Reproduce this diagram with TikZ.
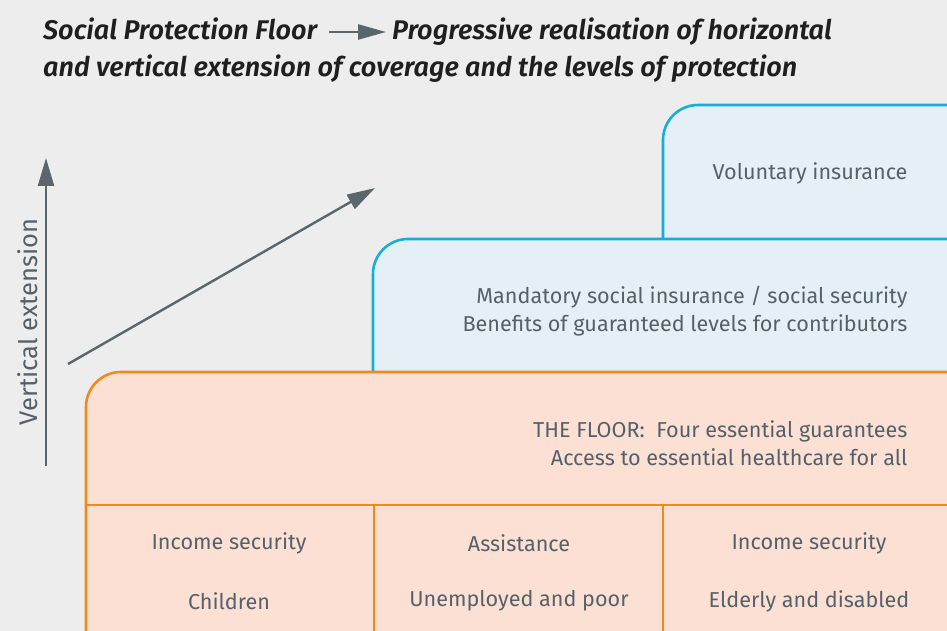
\documentclass[tikz,border=0pt]{standalone}
\usepackage{fontspec}
\setmainfont{Fira Sans}[UprightFont={Fira Sans Regular}, BoldItalicFont={Fira Sans SemiBold Italic}]
\usepackage{xcolor}
\usetikzlibrary{arrows.meta}

\definecolor{bgGrey}{HTML}{ECEDEC}
\definecolor{txtGrey}{HTML}{55616A}
\definecolor{arrGrey}{HTML}{5A656C}
\definecolor{blueLine}{HTML}{1BADDA}
\definecolor{blueFill}{HTML}{E4EFF6}
\definecolor{orangeLine}{HTML}{F3891C}
\definecolor{orangeFill}{HTML}{FCE0D4}

\tikzset{
  greyArrow/.style={arrGrey, line width=2.4pt, -{Triangle[length=28pt,width=16pt]}},
  blueBox/.style={fill=blueFill, draw=blueLine, line width=2.6pt},
  floorBox/.style={fill=orangeFill, draw=orangeLine, line width=2.6pt},
  boxText/.style={txtGrey, font=\fontsize{21.6}{28.5}\selectfont, align=right, anchor=east},
  cellText/.style={txtGrey, font=\fontsize{21.6}{24}\selectfont},
  titleText/.style={black!88, font=\fontsize{27}{37}\selectfont\bfseries\itshape, anchor=base west, inner sep=0pt}
}

\begin{document}
\begin{tikzpicture}[x=1pt, y=-1pt]
    \clip (0,0) rectangle (947,631);
    \fill[bgGrey] (0,0) rectangle (947,631);
    % Title
    \node[titleText] (titleA) at (43,40) {Social Protection Floor};
    \node[titleText] (titleB) at (392,40) {Progressive realisation of horizontal};
    \node[titleText] (titleC) at (43,77) {and vertical extension of coverage and the levels of protection};
    \draw[arrGrey, line width=2.4pt, -{Triangle[length=28pt,width=15pt]}]
        ([xshift=12pt,yshift=8pt]titleA.base east) -- ([xshift=-6pt,yshift=8pt]titleB.base west);
    % Voluntary insurance
    \filldraw[blueBox] (990,240) -- (663,240) [rounded corners=35pt] -- (663,105) -- (990,105) -- cycle;
    \node[boxText] (volun) at (911,173) {Voluntary insurance};
    % Mandatory insurance
    \filldraw[blueBox] (990,380) -- (373,380) [rounded corners=35pt] -- (373,239) -- (990,239) -- cycle;
    \node[boxText] (manda) at (911,311) {Mandatory social insurance / social security\\Benefits of guaranteed levels for contributors};
    % The floor
    \filldraw[floorBox] (990,660) -- (86,660) [rounded corners=35pt] -- (86,372) -- (990,372) -- cycle;
    \node[boxText] (floor) at (911,443) {THE FLOOR:\ \ Four essential guarantees\\Access to essential healthcare for all};
    % Guarantee cells
    \draw[orangeLine, line width=2.6pt] (86,505) -- (990,505);
    \draw[orangeLine, line width=2.6pt] (374,505) -- (374,660);
    \draw[orangeLine, line width=2.6pt] (663,505) -- (663,660);
    \node[cellText] (cellA) at (229,543) {Income security};
    \node[cellText] (cellB) at (519,543) {Assistance};
    \node[cellText] (cellC) at (809,543) {Income security};
    \node[cellText] (grpA) at (229,601) {Children};
    \node[cellText] (grpB) at (519,601) {Unemployed and poor};
    \node[cellText] (grpC) at (809,601) {Elderly and disabled};
    % Extension arrows
    \coordinate (vertFoot) at (46,466);
    \coordinate (vertHead) at (46,158);
    \coordinate (diagFoot) at (68,364);
    \coordinate (diagHead) at (375,188);
    \draw[greyArrow] (vertFoot) -- (vertHead);
    \draw[greyArrow] (diagFoot) -- (diagHead);
    \node[txtGrey, rotate=90, font=\fontsize{25.5}{28}\selectfont] (vertLabel) at (28,322) {Vertical extension};
\end{tikzpicture}
\end{document}
